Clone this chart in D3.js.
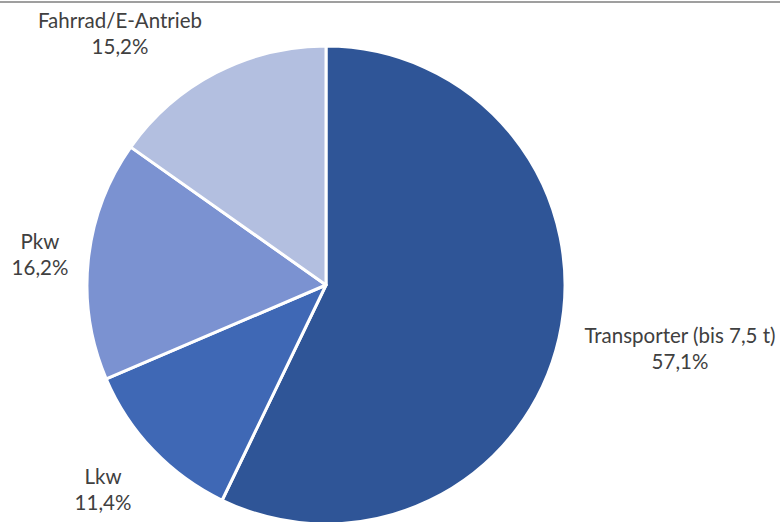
<!DOCTYPE html>
<html>
<head>
<meta charset="utf-8">
<script src="https://cdn.jsdelivr.net/npm/d3@7"></script>
<style>
  html, body { margin: 0; padding: 0; background: #fff; }
  svg { display: block; }
  text { font-family: Lato, "Open Sans", sans-serif; fill: #404040; }
</style>
</head>
<body>
<svg id="chart" width="780" height="522"></svg>
<script>
// Anteile der Fahrzeugarten
const categories = ["Transporter (bis 7,5 t)", "Lkw", "Pkw", "Fahrrad/E-Antrieb"];
const shares = [57.1, 11.4, 16.2, 15.2];
const shareLabels = ["57,1%", "11,4%", "16,2%", "15,2%"];
const colors = ["#2F5597", "#3F68B5", "#7B92D1", "#B3BFE0"];

const svg = d3.select("#chart");
const W = 780, H = 522;

// top rule
svg.append("line")
  .attr("x1", 0).attr("x2", W).attr("y1", 2).attr("y2", 2)
  .attr("stroke", "#7f7f7f").attr("stroke-width", 1.5);

const cx = 326, cy = 285, r = 239;

const pie = d3.pie().sort(null).value(d => d.v);
const data = categories.map((c, i) => ({ name: c, v: shares[i], label: shareLabels[i], color: colors[i] }));
const arcs = pie(data);
const arc = d3.arc().innerRadius(0).outerRadius(r);

const g = svg.append("g").attr("transform", `translate(${cx},${cy})`);
g.selectAll("path")
  .data(arcs)
  .join("path")
  .attr("d", arc)
  .attr("fill", d => d.data.color)
  .attr("stroke", "#fff")
  .attr("stroke-width", 3)
  .attr("stroke-linejoin", "round");

// label anchors (centre x, baseline of first line)
const labelPos = [
  { x: 680, y: 343 },
  { x: 103, y: 484 },
  { x: 40,  y: 249 },
  { x: 120, y: 28 }
];

const labels = svg.append("g");
arcs.forEach((a, i) => {
  const t = labels.append("text")
    .attr("text-anchor", "middle")
    .attr("font-size", 20.5);
  t.append("tspan").attr("x", labelPos[i].x).attr("y", labelPos[i].y).text(a.data.name);
  t.append("tspan").attr("x", labelPos[i].x).attr("y", labelPos[i].y + 26).text(a.data.label);
});
</script>
</body>
</html>
